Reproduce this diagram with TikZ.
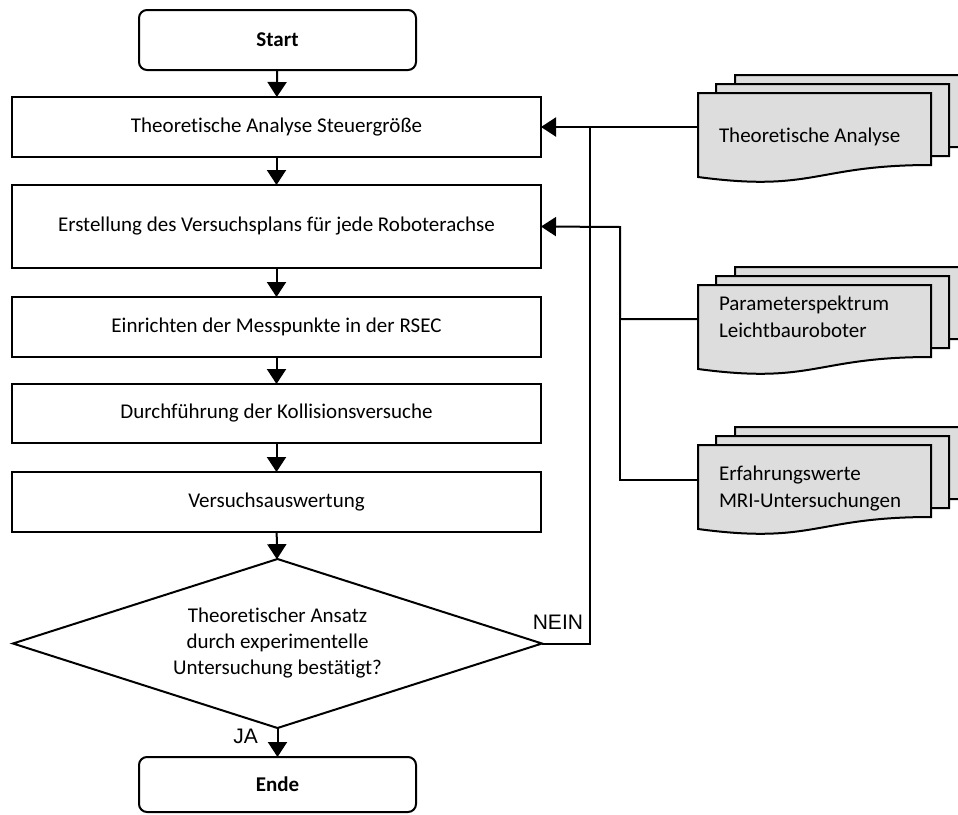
\documentclass[tikz,border=0pt]{standalone}
\usepackage{fontspec}
\setmainfont[Ligatures={NoCommon}]{Carlito}
\newfontfamily\labelfont{Liberation Sans}
\usetikzlibrary{arrows.meta,shapes.geometric}

\definecolor{docgray}{RGB}{221,221,221}

% one sheet of a stacked document: left x, top y (width 233, wavy bottom)
\newcommand{\onedoc}[2]{%
  \filldraw[docsheet] (#1,#2) -- ({#1+233},#2) -- ({#1+233},{#2+72})
    .. controls ({#1+116.5},{#2+72}) and ({#1+116.5},{#2+99.6}) .. (#1,{#2+84}) -- cycle;}
% three stacked sheets, front sheet at left x, top y
\newcommand{\multidoc}[2]{%
  \onedoc{#1+37}{#2-18}%
  \onedoc{#1+18}{#2-9}%
  \onedoc{#1}{#2}}

\tikzset{
  every node/.style={inner sep=0pt, outer sep=0pt},
  txt/.style={font=\fontsize{21}{26}\selectfont, align=center},
  procbox/.style={draw, line width=2pt, minimum width=529pt, txt},
  terminal/.style={draw, line width=2pt, rounded corners=8pt, minimum width=277pt, txt},
  decision/.style={draw, line width=2pt, shape=diamond, aspect=3.13,
    minimum width=529pt, minimum height=169pt, txt},
  docsheet/.style={draw=black, fill=docgray, line width=2pt, line join=miter},
  doctext/.style={font=\fontsize{21}{26.5}\selectfont, align=left, anchor=base west},
  conn/.style={line width=2pt},
  arr/.style={conn, -{Triangle[width=19pt,length=15pt]}},
  answer/.style={font=\labelfont\fontsize{21}{25}\selectfont, anchor=base east},
}

\begin{document}
\begin{tikzpicture}[x=1pt, y=-1pt]
  \useasboundingbox (0,0) rectangle (958,814);
  \clip (0,0) rectangle (958,814);

  % main flow
  \node[terminal, minimum height=60pt] (start) at (277.5,40) {\bfseries Start};
  \node[procbox, minimum height=60pt] (b1) at (276.5,127) {Theoretische Analyse Steuergröße};
  \node[procbox, minimum height=83pt] (b2) at (276.5,226.5) {Erstellung des Versuchsplans für jede Roboterachse};
  \node[procbox, minimum height=60pt] (b3) at (276.5,327) {Einrichten der Messpunkte in der RSEC};
  \node[procbox, minimum height=59pt] (b4) at (276.5,413.5) {Durchführung der Kollisionsversuche};
  \node[procbox, minimum height=60pt] (b5) at (276.5,502) {Versuchsauswertung};
  \node[decision] (dec) at (277.5,643.5) {Theoretischer Ansatz\\durch experimentelle\\Untersuchung bestätigt?};
  \node[terminal, minimum height=55pt] (ende) at (277.5,784.5) {\bfseries Ende};

  % input documents
  \multidoc{698}{93}
  \multidoc{698}{285}
  \multidoc{698}{445}
  \node[doctext] (doc1) at (719,142) {Theoretische Analyse};
  \node[doctext] (doc2) at (719,337) {Parameterspektrum\\Leichtbauroboter};
  \node[doctext] (doc3) at (719,507) {Erfahrungswerte\\MRI-Untersuchungen};
  \coordinate (d1w) at (698,127);
  \coordinate (d2w) at (698,319);
  \coordinate (d3w) at (698,480);

  % junctions of the side lines
  \coordinate (j1) at (590,127);
  \coordinate (j2) at (620,227);
  \coordinate (j3) at (620,319);

  % connectors
  \draw[arr] (start) -- (b1);
  \draw[arr] (b1) -- (b2);
  \draw[arr] (b2) -- (b3);
  \draw[arr] (b3) -- (b4);
  \draw[arr] (b4) -- (b5);
  \draw[arr] (b5) -- (dec);
  \draw[arr] (dec) -- (ende);
  \draw[arr] (d1w) -- (b1.east);
  \draw[conn] (dec.east) -| (j1);
  \draw[arr] (d2w) -| (j2) -- (b2.east);
  \draw[conn] (d3w) -| (j3);

  % answers
  \node[answer] (nein) at (583,629) {NEIN};
  \node[answer] (ja) at (258,743) {JA};
\end{tikzpicture}
\end{document}
